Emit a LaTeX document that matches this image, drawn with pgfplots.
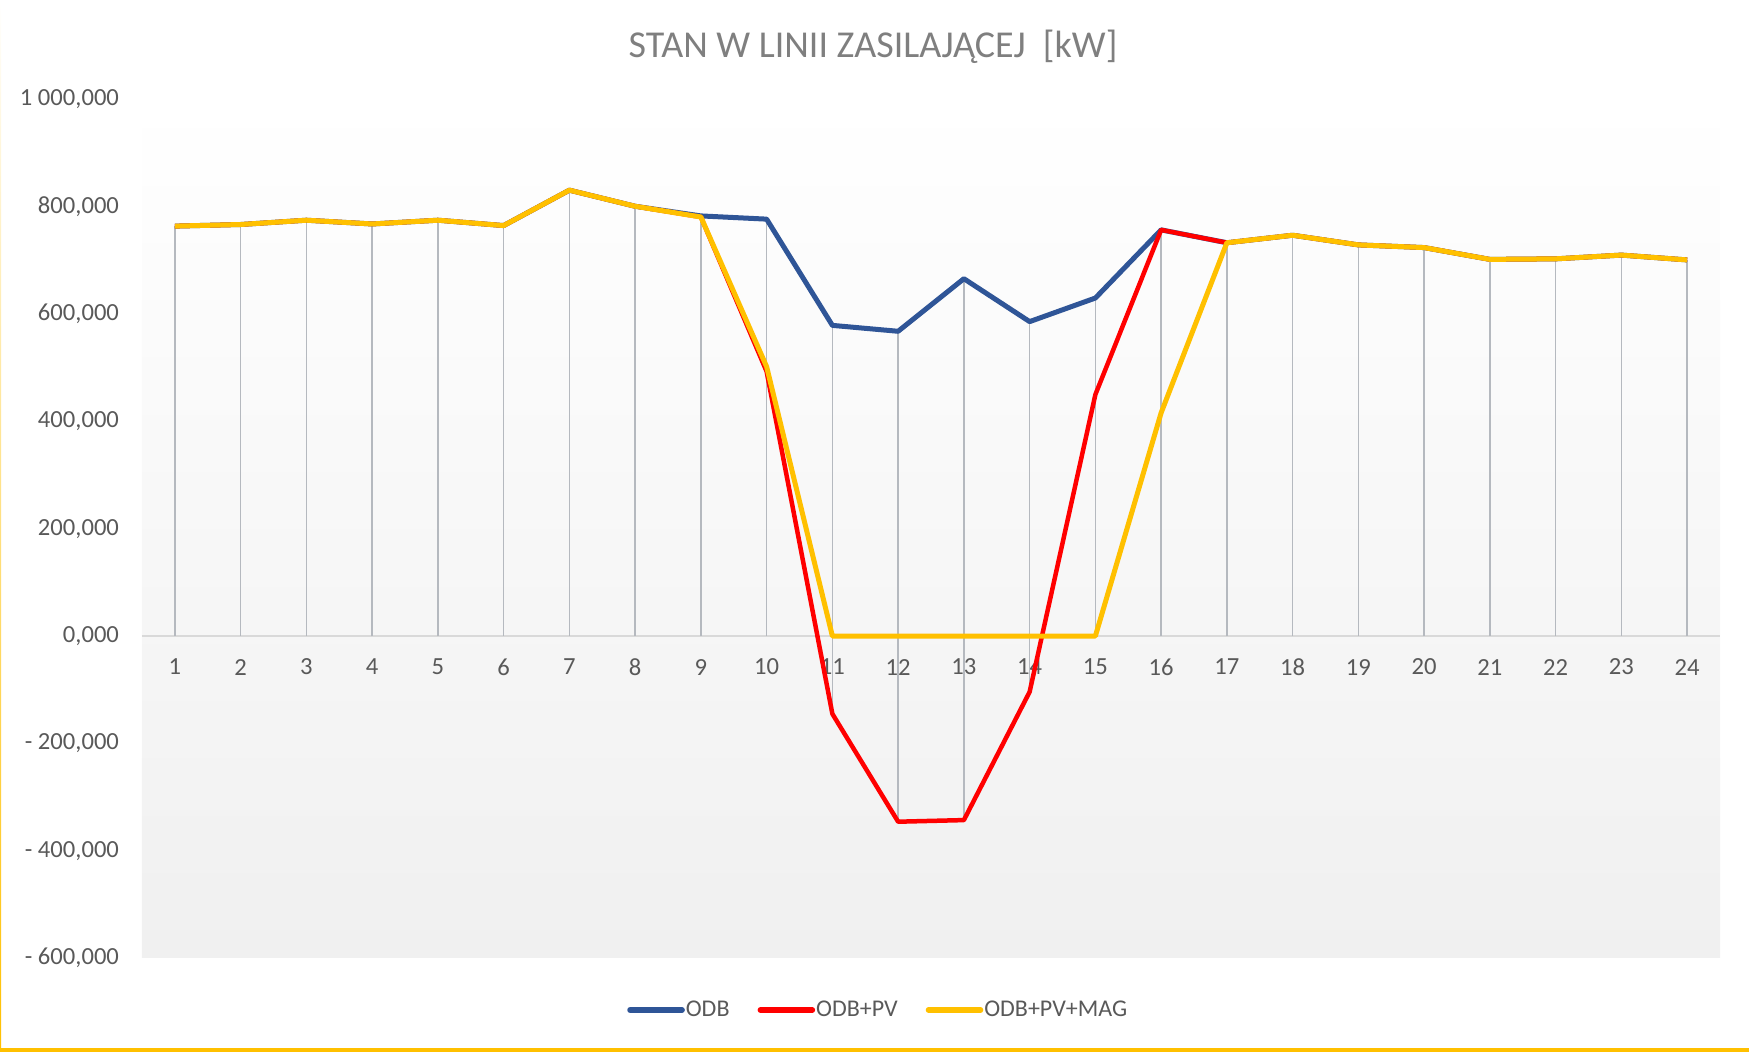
\documentclass[border=0pt]{standalone}
\usepackage{pgfplots}
\pgfplotsset{compat=1.18}
\usepackage{fontspec}
\setmainfont{Carlito}
\definecolor{odb}{HTML}{2F5597}
\definecolor{odbpv}{HTML}{FF0000}
\definecolor{odbmag}{HTML}{FFC000}
\definecolor{txt}{HTML}{595959}
\definecolor{ttl}{HTML}{7F7F7F}
\definecolor{drop}{HTML}{B5B9BF}
\definecolor{zero}{HTML}{D9D9D9}
\definecolor{bgbot}{HTML}{F0F0F0}
\begin{document}
\begin{tikzpicture}
\path[use as bounding box] (-71pt,-47pt) rectangle (803.5pt,479pt);
\fill[odbmag] (-71pt,-47pt) rectangle (803.5pt,-45pt);
\shade[top color=white, bottom color=odbmag] (-71pt,-47pt) rectangle (-70.4pt,479pt);
\begin{axis}[
  at={(0,0)}, anchor=south west,
  scale only axis, width=789pt, height=429.25pt,
  xmin=0.5, xmax=24.5, ymin=-600, ymax=1000,
  axis background/.style={top color=white, bottom color=bgbot},
  axis x line=middle, axis y line=left,
  axis line style={-},
  x axis line style={draw=zero, line width=1pt},
  y axis line style={draw=none},
  major tick length=0pt,
  xtick={1,2,...,24},
  xticklabels={1,2,3,4,5,6,7,8,9,10,11,12,13,14,15,16,17,18,19,20,21,22,23,24},
  ytick={-600,-400,-200,0,200,400,600,800,1000},
  yticklabels={{- 600,000},{- 400,000},{- 200,000},{0,000},{200,000},{400,000},{600,000},{800,000},{1 000,000}},
  xticklabel style={anchor=center, yshift=-15.5pt, font=\fontsize{12.3}{14}\selectfont, text=txt},
  yticklabel style={anchor=east, xshift=-8pt, font=\fontsize{12.3}{14}\selectfont, text=txt},
  legend columns=3,
  legend style={at={(0.4672,-0.0606)}, anchor=center, draw=none, fill=none,
    font=\fontsize{12}{14}\selectfont, text=txt,
    /tikz/every even column/.append style={column sep=12pt},
    /tikz/every odd column/.append style={column sep=-1.5pt}},
  legend cell align=left,
  legend image code/.code={\draw[#1, line width=2.8pt, line cap=round] (0pt,0pt) -- (26pt,0pt);},
  clip=false,
]
\addplot[ycomb, drop, line width=0.8pt, forget plot] coordinates {
(1,764)(2,767)(3,775)(4,768)(5,775)(6,765)(7,831)(8,801)(9,783)(10,777)(11,579)(12,568)
(13,666)(14,586)(15,630)(16,757)(17,733)(18,747)(19,729)(20,724)(21,702)(22,703)(23,710)(24,701)};
\addplot[ycomb, drop, line width=0.8pt, forget plot] coordinates {
(11,-145)(12,-346)(13,-343)(14,-104)};
\addplot[odb, line width=2.5pt, line join=round] coordinates {
(1,764)(2,767)(3,775)(4,768)(5,775)(6,765)(7,831)(8,801)(9,783)(10,777)(11,579)(12,568)
(13,666)(14,586)(15,630)(16,757)(17,733)(18,747)(19,729)(20,724)(21,702)(22,703)(23,710)(24,701)};
\addlegendentry{ODB}
\addplot[odbpv, line width=2.25pt, line join=round] coordinates {
(1,764)(2,767)(3,775)(4,768)(5,775)(6,765)(7,831)(8,801)(9,781)(10,493)(11,-145)(12,-346)
(13,-343)(14,-104)(15,450)(16,757)(17,733)(18,747)(19,729)(20,724)(21,702)(22,703)(23,710)(24,701)};
\addlegendentry{ODB+PV}
\addplot[odbmag, line width=2.5pt, line join=round] coordinates {
(1,764)(2,767)(3,775)(4,768)(5,775)(6,765)(7,831)(8,801)(9,781)(10,502)(11,0)(12,0)
(13,0)(14,0)(15,0)(16,416)(17,733)(18,747)(19,729)(20,724)(21,702)(22,703)(23,710)(24,701)};
\addlegendentry{ODB+PV+MAG}
\end{axis}
\node[text=ttl, font=\fontsize{19}{22}\selectfont] at (365.5pt,455.5pt) {STAN W LINII ZASILAJĄCEJ\ \ [kW]};
\end{tikzpicture}
\end{document}
